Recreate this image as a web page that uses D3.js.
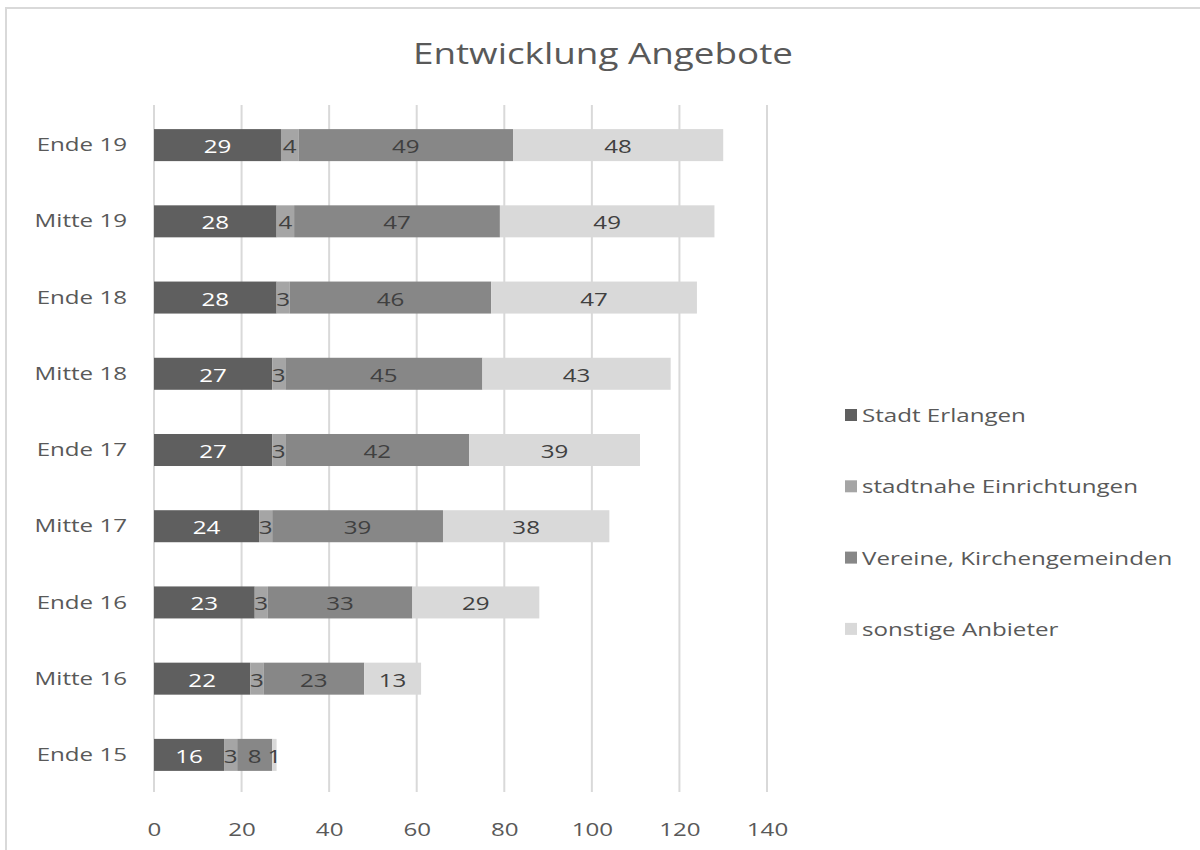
<!DOCTYPE html>
<html>
<head>
  <meta charset="utf-8">
  <title>Entwicklung Angebote</title>
  <script src="https://cdn.jsdelivr.net/npm/d3@7"></script>
  <style>
    body { margin: 0; background: #fff; }
    text { font-family: "Open Sans", "Noto Sans", sans-serif; }
    .grid line { stroke: #d9d9d9; stroke-width: 2; }
    .axis text { fill: #595959; font-size: 19px; }
    .lbl { font-size: 19px; text-anchor: middle; dominant-baseline: central; }
  </style>
</head>
<body>
<svg id="chart"></svg>
<script>
  // categories top to bottom
  var periods = ['Ende 19', 'Mitte 19', 'Ende 18', 'Mitte 18', 'Ende 17',
                 'Mitte 17', 'Ende 16', 'Mitte 16', 'Ende 15'];
  var seriesNames = ['Stadt Erlangen', 'stadtnahe Einrichtungen',
                     'Vereine, Kirchengemeinden', 'sonstige Anbieter'];
  var stadt     = [29, 28, 28, 27, 27, 24, 23, 22, 16];
  var stadtnah  = [4, 4, 3, 3, 3, 3, 3, 3, 3];
  var vereine   = [49, 47, 46, 45, 42, 39, 33, 23, 8];
  var sonstige  = [48, 49, 47, 43, 39, 38, 29, 13, 1];
  var xTicks = [0, 20, 40, 60, 80, 100, 120, 140];

  var colors = ['#5f5f5f', '#a5a5a5', '#878787', '#d9d9d9'];
  var labelColors = ['#ffffff', '#404040', '#404040', '#404040'];

  var width = 1200, height = 850;
  var stretch = 1.27;  // the source picture is stretched sideways
  var svg = d3.select('#chart').attr('width', width).attr('height', height);

  // chart frame (cropped on right and bottom)
  svg.append('rect')
    .attr('x', 6).attr('y', 8)
    .attr('width', 1300).attr('height', 900)
    .attr('fill', '#fff').attr('stroke', '#d9d9d9').attr('stroke-width', 2);

  svg.append('text')
    .attr('x', 603).attr('y', 64)
    .attr('text-anchor', 'middle')
    .attr('fill', '#595959')
    .style('font-size', '29px')
    .text('Entwicklung Angebote');

  var rows = periods.map((p, i) => ({
    period: p,
    s0: stadt[i], s1: stadtnah[i], s2: vereine[i], s3: sonstige[i]
  }));
  var keys = ['s0', 's1', 's2', 's3'];
  var stacked = d3.stack().keys(keys)(rows);

  var x = d3.scaleLinear().domain([0, 140]).range([154, 767]);
  var y = d3.scaleBand().domain(periods).range([107, 793]).paddingInner(0.58).paddingOuter(0.29);

  // vertical gridlines
  svg.append('g').attr('class', 'grid')
    .selectAll('line')
    .data(xTicks)
    .enter()
    .append('line')
    .attr('x1', d => x(d)).attr('x2', d => x(d))
    .attr('y1', 105).attr('y2', 792);

  var layers = svg.selectAll('g.layer')
    .data(stacked)
    .enter()
    .append('g')
    .attr('class', 'layer')
    .attr('fill', (d, i) => colors[i]);

  layers.selectAll('rect')
    .data(d => d)
    .enter()
    .append('rect')
    .attr('x', d => x(d[0]))
    .attr('y', d => y(d.data.period))
    .attr('width', d => x(d[1]) - x(d[0]))
    .attr('height', y.bandwidth());

  // data labels
  stacked.forEach((layer, li) => {
    svg.append('g').selectAll('text')
      .data(layer)
      .enter()
      .append('text')
      .attr('class', 'lbl')
      .attr('fill', labelColors[li])
      .attr('x', d => (x(d[0]) + x(d[1])) / 2)
      .attr('y', d => y(d.data.period) + y.bandwidth() / 2 + 1)
      .text(d => d[1] - d[0]);
  });

  // category axis
  var yAxis = svg.append('g').attr('class', 'axis')
    .attr('transform', 'translate(154,0)')
    .call(d3.axisLeft(y).tickSize(0).tickPadding(27));
  yAxis.select('.domain').remove();

  // value axis
  var xAxis = svg.append('g').attr('class', 'axis')
    .attr('transform', 'translate(0,803)')
    .call(d3.axisBottom(x).tickValues(xTicks).tickSize(0).tickPadding(20));
  xAxis.select('.domain').remove();

  // legend
  var legend = svg.append('g').selectAll('g')
    .data(seriesNames)
    .enter()
    .append('g')
    .attr('transform', (d, i) => 'translate(845,' + (415 + i * 71.3) + ')');

  legend.append('rect')
    .attr('x', 0).attr('y', -6)
    .attr('width', 12).attr('height', 12)
    .attr('fill', (d, i) => colors[i]);

  legend.append('text')
    .attr('x', 17).attr('y', 0)
    .attr('dominant-baseline', 'central')
    .attr('fill', '#595959')
    .style('font-size', '19px')
    .text(d => d);

  // widen all text like the source
  svg.selectAll('text').each(function () {
    var w = this.getComputedTextLength();
    d3.select(this)
      .attr('textLength', w * stretch)
      .attr('lengthAdjust', 'spacingAndGlyphs');
  });
</script>
</body>
</html>
